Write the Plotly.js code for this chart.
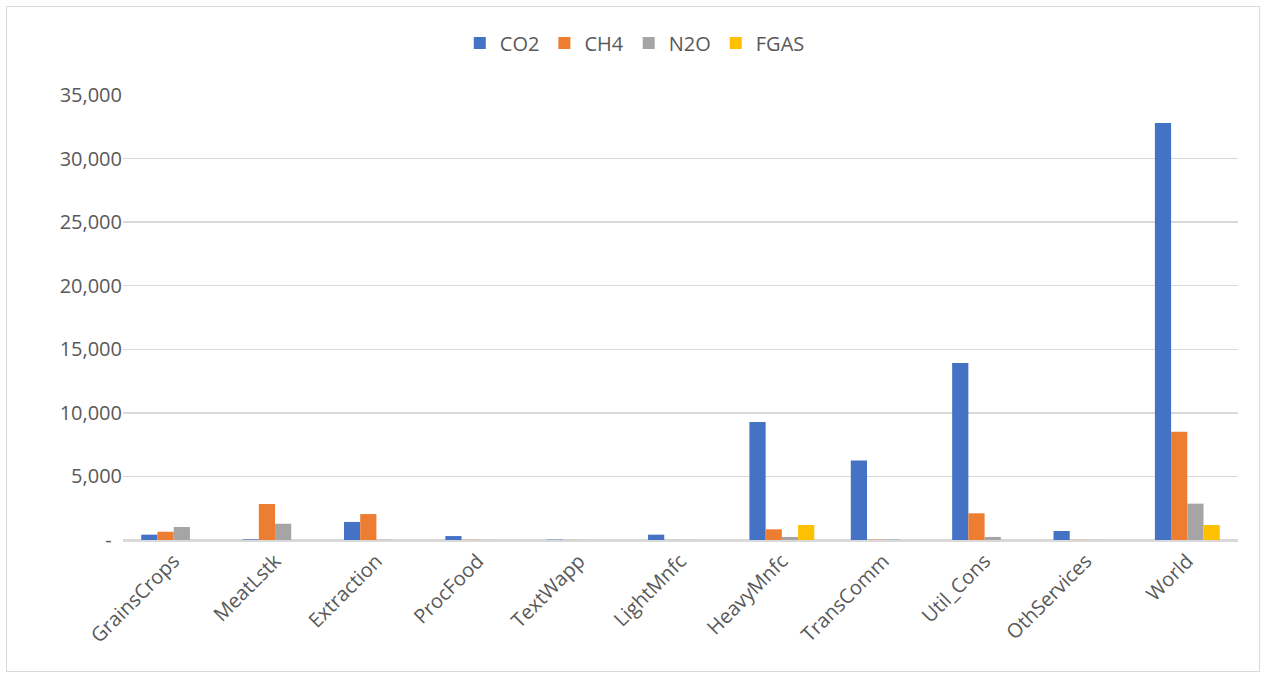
<!DOCTYPE html>
<html>
<head>
<meta charset="utf-8">
<script src="https://cdn.plot.ly/plotly-3.0.1.min.js"></script>
<style>
html,body{margin:0;padding:0;background:#fff;}
#chart{width:1267px;height:677px;}
#frame{position:absolute;left:6px;top:6px;width:1254px;height:666px;border:1px solid #d9d9d9;pointer-events:none;box-sizing:border-box;}
</style>
</head>
<body>
<div id="chart"></div>
<div id="frame"></div>
<script>
const categories = ["GrainsCrops","MeatLstk","Extraction","ProcFood","TextWapp","LightMnfc","HeavyMnfc","TransComm","Util_Cons","OthServices","World"];
const co2  = [420, 50, 1420, 310, 30, 420, 9280, 6250, 13920, 710, 32800];
const ch4  = [650, 2830, 2040, 20, 10, 10, 840, 30, 2100, 10, 8520];
const n2o  = [1020, 1280, 20, 10, 5, 10, 240, 40, 240, 10, 2860];
const fgas = [0, 0, 0, 0, 0, 0, 1180, 0, 0, 0, 1180];
const yTickVals = [0, 5000, 10000, 15000, 20000, 25000, 30000, 35000];
const yTickText = ["-\u00a0\u00a0", "5,000", "10,000", "15,000", "20,000", "25,000", "30,000", "35,000"];

const series = [
  {name: "CO2", y: co2, color: "#4472C4"},
  {name: "CH4", y: ch4, color: "#ED7D31"},
  {name: "N2O", y: n2o, color: "#A5A5A5"},
  {name: "FGAS", y: fgas, color: "#FFC000"}
];

const traces = series.map(s => ({
  type: "bar",
  name: s.name,
  x: categories,
  y: s.y,
  marker: {color: s.color, line: {width: 0}},
  hoverinfo: "x+y+name"
}));

const font = {family: "'Open Sans', sans-serif", size: 20, color: "#595959"};

const layout = {
  width: 1267,
  height: 677,
  margin: {l: 123, r: 29, t: 95, b: 137},
  paper_bgcolor: "#ffffff",
  plot_bgcolor: "#ffffff",
  font: font,
  barmode: "group",
  bargap: 0.36,
  bargroupgap: 0,
  showlegend: true,
  legend: {
    orientation: "h",
    x: 0.459, xanchor: "center",
    y: 1.117, yanchor: "middle",
    font: font,
    itemwidth: 30,
    traceorder: "normal"
  },
  xaxis: {
    type: "category",
    tickangle: -45,
    tickfont: font,
    showgrid: false,
    showline: true,
    linecolor: "#d9d9d9",
    linewidth: 1.5,
    ticks: "",
    automargin: false
  },
  yaxis: {
    range: [0, 35000],
    tickvals: yTickVals,
    ticktext: yTickText,
    tickfont: font,
    showgrid: true,
    gridcolor: "#d9d9d9",
    gridwidth: 1.5,
    zeroline: true,
    zerolinecolor: "#d9d9d9",
    zerolinewidth: 1.5,
    showline: false,
    ticks: "",
    ticklen: 0,
    automargin: false
  }
};

Plotly.newPlot("chart", traces, layout, {displayModeBar: false, staticPlot: true});
</script>
</body>
</html>
